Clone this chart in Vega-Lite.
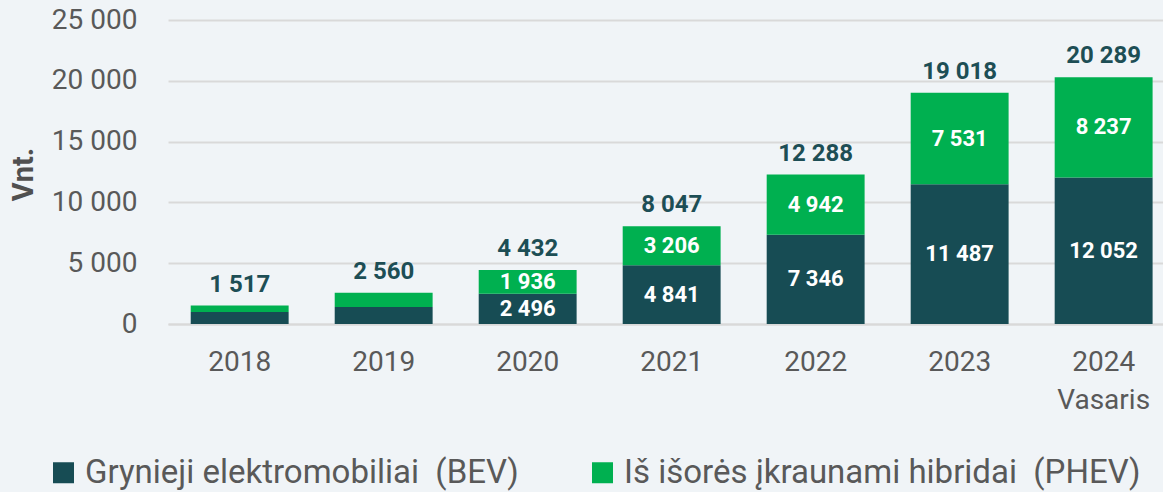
{
  "$schema": "https://vega.github.io/schema/vega-lite/v6.json",
  "autosize": {"type": "none"},
  "width": 995,
  "height": 304,
  "padding": {"left": 168, "top": 20, "right": 0, "bottom": 168},
  "background": "#F0F4F7",
  "config": {
    "locale": {"number": {"decimal": ",", "thousands": " ", "grouping": [3], "currency": ["", " €"]}},
    "view": {"stroke": null},
    "font": "Roboto"
  },
  "data": {
    "values": [
      {"year": "2018", "series": "Grynieji elektromobiliai  (BEV)", "value": 980},
      {"year": "2018", "series": "Iš išorės įkraunami hibridai  (PHEV)", "value": 537},
      {"year": "2019", "series": "Grynieji elektromobiliai  (BEV)", "value": 1400},
      {"year": "2019", "series": "Iš išorės įkraunami hibridai  (PHEV)", "value": 1160},
      {"year": "2020", "series": "Grynieji elektromobiliai  (BEV)", "value": 2496},
      {"year": "2020", "series": "Iš išorės įkraunami hibridai  (PHEV)", "value": 1936},
      {"year": "2021", "series": "Grynieji elektromobiliai  (BEV)", "value": 4841},
      {"year": "2021", "series": "Iš išorės įkraunami hibridai  (PHEV)", "value": 3206},
      {"year": "2022", "series": "Grynieji elektromobiliai  (BEV)", "value": 7346},
      {"year": "2022", "series": "Iš išorės įkraunami hibridai  (PHEV)", "value": 4942},
      {"year": "2023", "series": "Grynieji elektromobiliai  (BEV)", "value": 11487},
      {"year": "2023", "series": "Iš išorės įkraunami hibridai  (PHEV)", "value": 7531},
      {"year": "2024", "series": "Grynieji elektromobiliai  (BEV)", "value": 12052},
      {"year": "2024", "series": "Iš išorės įkraunami hibridai  (PHEV)", "value": 8237}
    ]
  },
  "encoding": {
    "x": {
      "field": "year", "type": "nominal", "sort": null,
      "scale": {"paddingInner": 0.32, "paddingOuter": 0.115, "align": 0.686},
      "axis": {
        "title": null, "labelAngle": 0, "labelFontSize": 28, "labelColor": "#595959",
        "labelFont": "Roboto", "labelPadding": 24, "labelLineHeight": 38,
        "labelExpr": "datum.value == '2024' ? ['2024', 'Vasaris'] : datum.label",
        "ticks": false, "domain": true, "domainColor": "#D9D9D9", "domainWidth": 2
      }
    }
  },
  "layer": [
    {
      "mark": {"type": "bar"},
      "encoding": {
        "y": {
          "field": "value", "type": "quantitative", "stack": "zero",
          "scale": {"domain": [0, 25000], "nice": false},
          "axis": {
            "values": [0, 5000, 10000, 15000, 20000, 25000], "format": ",d",
            "title": "Vnt.", "titleFontSize": 29, "titleFontWeight": "bold", "titleColor": "#505050",
            "titleFont": "Roboto", "titleAngle": -90, "titleX": -145, "titleY": 154,
            "titleAlign": "center", "titleBaseline": "middle",
            "labelFontSize": 28, "labelColor": "#595959", "labelFont": "Roboto", "labelPadding": 31,
            "ticks": false, "domain": false,
            "grid": true, "gridColor": "#D9D9D9", "gridWidth": 2
          }
        },
        "color": {
          "field": "series", "type": "nominal",
          "scale": {"domain": ["Grynieji elektromobiliai  (BEV)", "Iš išorės įkraunami hibridai  (PHEV)"], "range": ["#174C54", "#00B050"]},
          "legend": {
            "title": null, "orient": "none", "legendX": -121, "legendY": 436, "padding": 0,
            "direction": "horizontal", "columns": 2, "columnPadding": 67,
            "symbolType": "square", "symbolSize": 441, "symbolStrokeWidth": 0,
            "labelFontSize": 33, "labelColor": "#595959", "labelFont": "Roboto", "labelOffset": 5,
            "labelLimit": 700,
            "labelExpr": "replace(datum.label, '  ', ' \u00a0')"
          }
        },
        "order": {"field": "series", "sort": "ascending"}
      }
    },
    {
      "transform": [{"filter": "datum.year != '2018' && datum.year != '2019'"}],
      "mark": {"type": "text", "color": "white", "fontWeight": "bold", "fontSize": 22, "font": "Roboto", "baseline": "middle"},
      "encoding": {
        "y": {"field": "value", "type": "quantitative", "stack": "zero", "bandPosition": 0.5},
        "text": {"field": "value", "type": "quantitative", "format": ",d"},
        "order": {"field": "series", "sort": "ascending"},
        "detail": {"field": "series"}
      }
    },
    {
      "mark": {"type": "text", "color": "#1D4E55", "fontWeight": "bold", "fontSize": 24, "font": "Roboto", "baseline": "alphabetic", "dy": -14},
      "encoding": {
        "y": {"aggregate": "sum", "field": "value", "type": "quantitative"},
        "text": {"aggregate": "sum", "field": "value", "type": "quantitative", "format": ",d"}
      }
    }
  ]
}
